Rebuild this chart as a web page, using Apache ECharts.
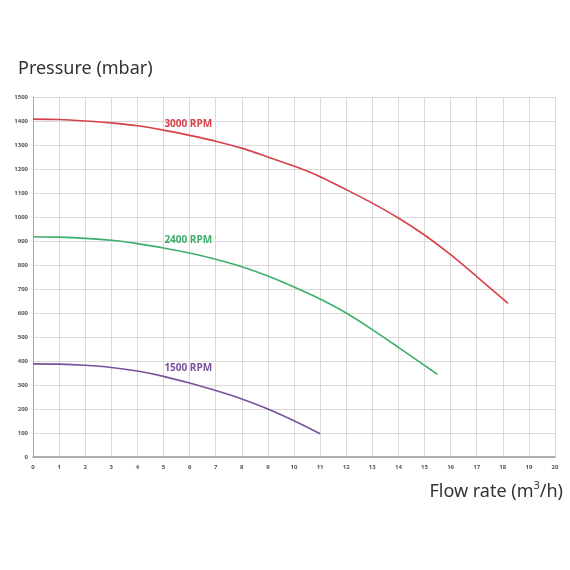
<!DOCTYPE html>
<html>
<head>
<meta charset="utf-8">
<script src="https://cdn.jsdelivr.net/npm/echarts@6/dist/echarts.min.js"></script>
<style>html,body{margin:0;padding:0;background:#fff;}#c{width:570px;height:570px;}</style>
</head>
<body>
<div id="c"></div>
<script>
const flow3000 = [0,1,2,3,4,5,6,7,8,9,10,11,12,13,14,15,16,17,18.2];
const pres3000 = [1408,1406,1400,1392,1380,1362,1340,1316,1287,1250,1212,1168,1114,1058,996,925,843,752,640];
const flow2400 = [0,1,2,3,4,5,6,7,8,9,10,11,12,13,14,15,15.5];
const pres2400 = [918,916,911,903,889,871,850,824,793,754,708,658,600,531,457,382,344];
const flow1500 = [0,1,2,3,4,5,6,7,8,9,10,11];
const pres1500 = [388,387,382,373,358,336,308,277,242,200,151,97];
const seriesNames = ['3000 RPM','2400 RPM','1500 RPM'];
const seriesColors = ['#d7404a','#3daf6b','#7a519c'];

function pairs(xs, ys){ return xs.map((x,i)=>[x, ys[i]]); }

const labelPos = [[5.95,1386],[5.95,903],[5.95,370]];
const datasets = [pairs(flow3000,pres3000), pairs(flow2400,pres2400), pairs(flow1500,pres1500)];

const chart = echarts.init(document.getElementById('c'), null, {renderer:'canvas'});
chart.setOption({
  animation:false,
  backgroundColor:'#fff',
  grid:{left:33, right:15, top:97, bottom:113, containLabel:false},
  graphic:[
    {type:'text', left:18, top:60, style:{text:'Pressure (mbar)', font:'18px "Noto Sans", Roboto, sans-serif', fill:'#333'}},
    {type:'text', right:7, top:480, style:{
      text:'{a|Flow rate (m}{s|3}{a|/h)}',
      rich:{
        a:{fontSize:18, fontFamily:'"Noto Sans", Roboto, sans-serif', fill:'#333', color:'#333', lineHeight:24},
        s:{fontSize:11, fontFamily:'"Noto Sans", Roboto, sans-serif', fill:'#333', color:'#333', verticalAlign:'top', lineHeight:24, padding:[0,0,8,0]}
      }
    }}
  ],
  xAxis:{
    type:'value', min:0, max:20, interval:1,
    axisLine:{show:true, lineStyle:{color:'#999', width:1.5}},
    axisTick:{show:false},
    axisLabel:{fontSize:6, color:'#555', fontWeight:'bold', margin:7, fontFamily:'"Open Sans", sans-serif'},
    splitLine:{show:true, lineStyle:{color:'#d9d9d9', width:1}}
  },
  yAxis:{
    type:'value', min:0, max:1500, interval:100,
    axisLine:{show:true, lineStyle:{color:'#aaa', width:1}},
    axisTick:{show:false},
    axisLabel:{fontSize:6, color:'#555', fontWeight:'bold', margin:5, fontFamily:'"Open Sans", sans-serif', formatter:function(v){return String(v);}},
    splitLine:{show:true, lineStyle:{color:'#d9d9d9', width:1}}
  },
  series: datasets.map((d,i)=>({
    type:'line', name:seriesNames[i], data:d, smooth:0.25, showSymbol:false, symbol:'none',
    lineStyle:{color:seriesColors[i], width:1.6},
    markPoint:{
      symbol:'circle', symbolSize:0,
      data:[{coord:labelPos[i], value:seriesNames[i]}],
      label:{show:true, formatter:seriesNames[i], color:seriesColors[i], fontSize:10, fontWeight:'bold', fontFamily:'"Open Sans", sans-serif', position:'inside'}
    }
  }))
});
</script>
</body>
</html>
